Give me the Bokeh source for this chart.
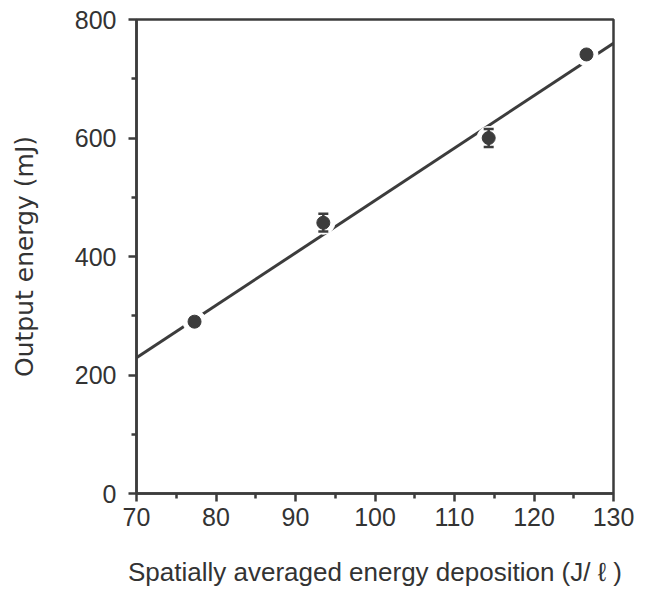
from bokeh.plotting import figure
from bokeh.models import ColumnDataSource, FixedTicker, Range1d
from bokeh.embed import file_html
from bokeh.resources import INLINE

# data
deposition = [77.3, 93.5, 114.3, 126.6]
output_energy = [290, 457, 600, 741]
energy_err = [6, 15, 15, 6]
fit_x = [70, 130]
fit_y = [229, 760]
x_ticks = [70, 80, 90, 100, 110, 120, 130]
x_minor = [75, 85, 95, 105, 115, 125]
y_ticks = [0, 200, 400, 600, 800]
y_minor = [100, 300, 500, 700]

INK = "#3c3c3c"
FONT = "Liberation Sans"

p = figure(width=661, height=589, output_backend="svg", toolbar_location=None,
           x_range=Range1d(70, 130), y_range=Range1d(0, 800),
           min_border_left=136, min_border_right=48, min_border_top=19, min_border_bottom=95)
p.grid.visible = False
p.outline_line_color = INK
p.outline_line_width = 2.5
p.background_fill_color = "white"
p.border_fill_color = "white"

src = ColumnDataSource(dict(x=deposition, y=output_energy,
                            lo=[v - e for v, e in zip(output_energy, energy_err)],
                            hi=[v + e for v, e in zip(output_energy, energy_err)]))

p.line(fit_x, fit_y, line_color=INK, line_width=3)
p.scatter("x", "y", source=src, size=23, fill_color="white", line_color="white")
p.segment(x0="x", y0="lo", x1="x", y1="hi", source=src, line_color=INK, line_width=2.5)
p.scatter("x", "lo", source=src, marker="dash", size=10, line_color=INK, line_width=2.5)
p.scatter("x", "hi", source=src, marker="dash", size=10, line_color=INK, line_width=2.5)
p.scatter("x", "y", source=src, size=13, fill_color=INK, line_color=INK)

for ax in (p.xaxis[0], p.yaxis[0]):
    ax.axis_line_color = INK
    ax.axis_line_width = 2.5
    ax.major_tick_line_color = INK
    ax.major_tick_line_width = 2.5
    ax.minor_tick_line_color = INK
    ax.minor_tick_line_width = 2.5
    ax.major_tick_out = 8
    ax.major_tick_in = 0
    ax.minor_tick_out = 5
    ax.minor_tick_in = 0
    ax.major_label_text_font = FONT
    ax.major_label_text_font_size = "25px"
    ax.major_label_text_color = "#333333"
    ax.axis_label_text_font_style = "normal"
    ax.axis_label_text_color = "#333333"

p.xaxis.ticker = FixedTicker(ticks=x_ticks, minor_ticks=x_minor)
p.yaxis.ticker = FixedTicker(ticks=y_ticks, minor_ticks=y_minor)
p.xaxis.axis_label = "Spatially averaged energy deposition (J/ \u2113 )"
p.yaxis.axis_label = "Output energy (mJ)"
p.xaxis.axis_label_text_font = FONT
p.xaxis.axis_label_text_font_size = "26px"
p.yaxis.axis_label_text_font = "DejaVu Sans"
p.yaxis.axis_label_text_font_size = "25px"
p.xaxis.major_label_standoff = 6
p.yaxis.major_label_standoff = 12
p.xaxis.axis_label_standoff = 28
p.yaxis.axis_label_standoff = 33

open("out.html", "w").write(file_html(p, INLINE))
